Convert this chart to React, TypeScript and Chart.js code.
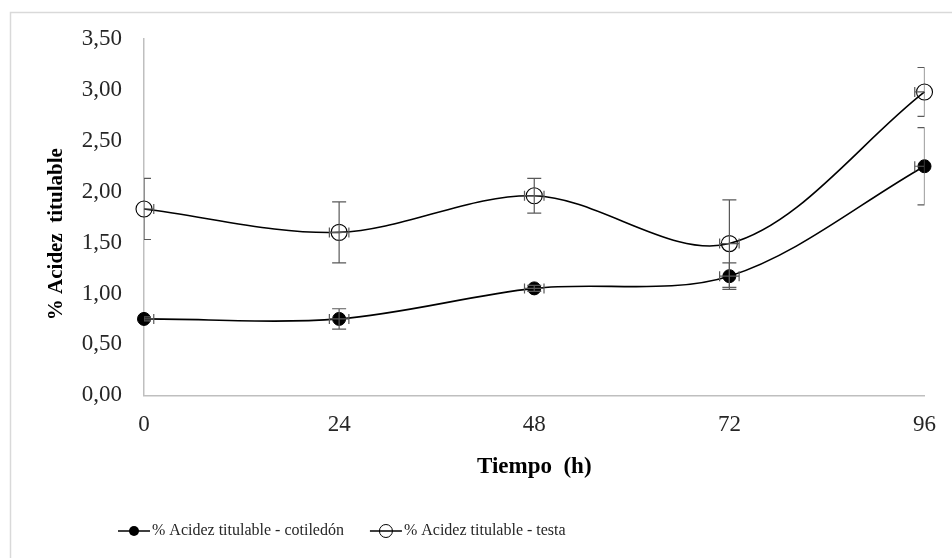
import React, { useEffect, useRef } from "react";
import { Chart, registerables } from "chart.js";

Chart.register(...registerables);

const hours = [0, 24, 48, 72, 96];
const cotiledon = [0.75, 0.75, 1.05, 1.17, 2.25];
const cotiledonErr = [0.02, 0.1, 0.03, 0.13, 0.38];
const testa = [1.83, 1.6, 1.96, 1.49, 2.98];
const testaErr = [0.3, 0.3, 0.17, 0.43, 0.24];
const hourErr = [1.2, 1.2, 1.2, 1.2, 1.2];
const seriesLabels = ["% Acidez titulable - cotiledón", "% Acidez titulable - testa"];
const yTitle = "% Acidez  titulable";
const xTitle = "Tiempo  (h)";
const xTicks = [0, 24, 48, 72, 96];
const yTicks = [0, 0.5, 1, 1.5, 2, 2.5, 3, 3.5];

const SERIF = "'Liberation Serif', 'Times New Roman', serif";

const errorBarPlugin = {
  id: "errorBars",
  afterDatasetsDraw(chart: any) {
    const { ctx, chartArea, scales } = chart;
    const xs = scales.x;
    const ys = scales.y;
    ctx.save();
    ctx.beginPath();
    ctx.rect(chartArea.left, chartArea.top - 20, chartArea.right - chartArea.left, chartArea.bottom - chartArea.top + 20);
    ctx.clip();
    ctx.strokeStyle = "#595959";
    ctx.lineWidth = 1.2;
    chart.data.datasets.forEach((ds: any) => {
      const errs: number[] = ds.yErr;
      const xerrs: number[] = ds.xErr;
      ds.data.forEach((pt: any, i: number) => {
        const px = xs.getPixelForValue(pt.x);
        const py = ys.getPixelForValue(pt.y);
        const yTop = ys.getPixelForValue(pt.y + errs[i]);
        const yBot = ys.getPixelForValue(pt.y - errs[i]);
        const cap = 7;
        ctx.beginPath();
        ctx.moveTo(px, yTop);
        ctx.lineTo(px, yBot);
        ctx.moveTo(px - cap, yTop);
        ctx.lineTo(px + cap, yTop);
        ctx.moveTo(px - cap, yBot);
        ctx.lineTo(px + cap, yBot);
        const xl = xs.getPixelForValue(pt.x - xerrs[i]);
        const xr = xs.getPixelForValue(pt.x + xerrs[i]);
        const hcap = 5;
        ctx.moveTo(xl, py);
        ctx.lineTo(xr, py);
        ctx.moveTo(xl, py - hcap);
        ctx.lineTo(xl, py + hcap);
        ctx.moveTo(xr, py - hcap);
        ctx.lineTo(xr, py + hcap);
        ctx.stroke();
      });
    });
    ctx.restore();
  },
};

const frameLegendPlugin = {
  id: "frameLegend",
  beforeDraw(chart: any) {
    const { ctx } = chart;
    ctx.save();
    ctx.fillStyle = "#ffffff";
    ctx.fillRect(0, 0, chart.width, chart.height);
    ctx.strokeStyle = "#d9d9d9";
    ctx.lineWidth = 1.5;
    ctx.strokeRect(10.5, 12.5, chart.width + 20, chart.height + 20);
    ctx.restore();
  },
  afterDraw(chart: any) {
    const { ctx, chartArea } = chart;
    ctx.save();
    // y-axis title
    ctx.font = `bold 21px ${SERIF}`;
    ctx.fillStyle = "#000";
    ctx.textAlign = "center";
    ctx.textBaseline = "middle";
    ctx.translate(chartArea.left - 87, (chartArea.top + chartArea.bottom) / 2 + 17);
    ctx.rotate(-Math.PI / 2);
    ctx.fillText(yTitle, 0, 0);
    ctx.restore();

    ctx.save();
    ctx.font = `16px ${SERIF}`;
    ctx.textBaseline = "middle";
    ctx.fillStyle = "#262626";
    let x = chartArea.left - 26;
    const y = chart.height - 27;
    chart.data.datasets.forEach((ds: any) => {
      ctx.strokeStyle = "#000";
      ctx.lineWidth = 1.5;
      ctx.beginPath();
      ctx.moveTo(x, y);
      ctx.lineTo(x + 32, y);
      ctx.stroke();
      ctx.beginPath();
      ctx.arc(x + 16, y, ds.pointRadius - 1.5, 0, Math.PI * 2);
      if (ds.pointBackgroundColor !== "rgba(0,0,0,0)") {
        ctx.fillStyle = ds.pointBackgroundColor;
        ctx.fill();
      } else {
        ctx.lineWidth = 1;
        ctx.stroke();
      }
      ctx.fillStyle = "#262626";
      ctx.textAlign = "left";
      ctx.fillText(ds.label, x + 34, y);
      const w = ctx.measureText(ds.label).width;
      x += 34 + w + 26;
    });
    ctx.restore();
  },
};

export default function App() {
  const canvasRef = useRef<HTMLCanvasElement | null>(null);

  useEffect(() => {
    document.body.style.margin = "0";
    const canvas = canvasRef.current;
    if (!canvas) return;
    const chart = new Chart(canvas, {
      type: "line",
      data: {
        datasets: [
          {
            label: seriesLabels[0],
            data: hours.map((h, i) => ({ x: h, y: cotiledon[i] })),
            yErr: cotiledonErr,
            xErr: hourErr,
            borderColor: "#000000",
            borderWidth: 1.6,
            pointRadius: 6.5,
            pointHoverRadius: 6.5,
            pointBackgroundColor: "#000000",
            pointBorderColor: "#000000",
            pointBorderWidth: 1,
            tension: 0.33,
            clip: false,
            fill: false,
          } as any,
          {
            label: seriesLabels[1],
            data: hours.map((h, i) => ({ x: h, y: testa[i] })),
            yErr: testaErr,
            xErr: hourErr,
            borderColor: "#000000",
            borderWidth: 1.6,
            pointRadius: 8,
            pointHoverRadius: 8,
            pointBackgroundColor: "rgba(0,0,0,0)",
            pointBorderColor: "#000000",
            pointBorderWidth: 1.1,
            tension: 0.33,
            clip: false,
            fill: false,
          } as any,
        ],
      },
      options: {
        animation: false,
        responsive: true,
        maintainAspectRatio: false,
        layout: { padding: { left: 0, right: 26, top: 39, bottom: 75 } },
        plugins: {
          legend: { display: false },
          tooltip: { enabled: false },
        },
        scales: {
          x: {
            type: "linear",
            min: 0,
            max: 96,
            afterBuildTicks: (s: any) => {
              s.ticks = xTicks.map((v) => ({ value: v }));
            },
            grid: { display: false, drawTicks: false },
            border: { display: true, color: "#bfbfbf", width: 1.5 },
            ticks: {
              padding: 16,
              color: "#262626",
              font: { family: SERIF, size: 23 },
              callback: (v: any) => String(v),
            },
            title: {
              display: true,
              text: xTitle,
              color: "#000",
              font: { family: SERIF, size: 23, weight: "bold", lineHeight: 1.05 },
              padding: { top: 0, bottom: 4 },
            },
          },
          y: {
            type: "linear",
            min: 0,
            max: 3.5,
            afterBuildTicks: (s: any) => {
              s.ticks = yTicks.map((v) => ({ value: v }));
            },
            afterFit: (s: any) => {
              s.width = 144;
            },
            grid: { display: false, drawTicks: false },
            border: { display: true, color: "#bfbfbf", width: 1.5 },
            ticks: {
              padding: 22,
              color: "#262626",
              font: { family: SERIF, size: 23 },
              callback: (v: any) => Number(v).toFixed(2).replace(".", ","),
            },
            title: { display: false },
          },
        },
      },
      plugins: [errorBarPlugin, frameLegendPlugin],
    });
    return () => chart.destroy();
  }, []);

  return (
    <div style={{ position: "relative", width: 952, height: 558 }}>
      <canvas ref={canvasRef} />
    </div>
  );
}
